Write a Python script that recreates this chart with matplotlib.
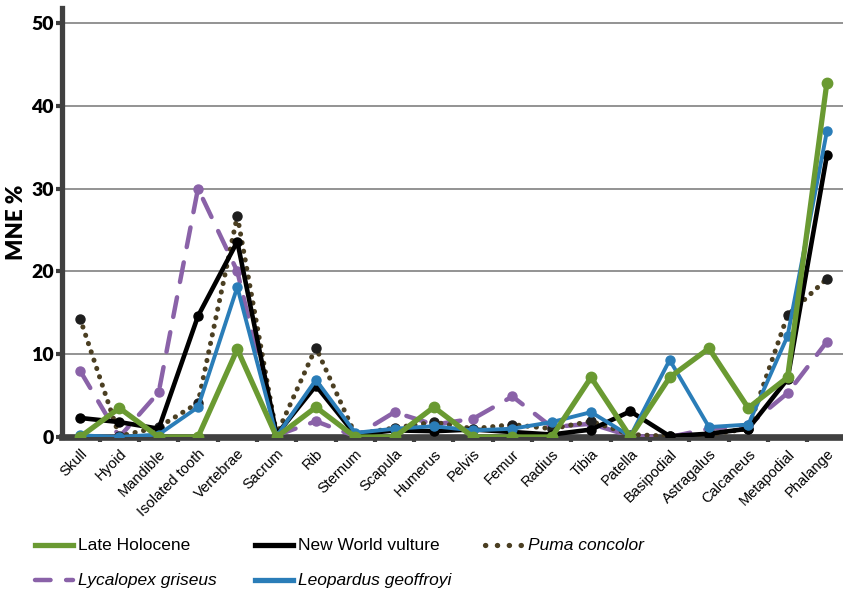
import matplotlib
matplotlib.use("Agg")
import matplotlib.pyplot as plt
from matplotlib.lines import Line2D
import numpy as np

elements = ["Skull", "Hyoid", "Mandible", "Isolated tooth", "Vertebrae", "Sacrum",
            "Rib", "Sternum", "Scapula", "Humerus", "Pelvis", "Femur", "Radius",
            "Tibia", "Patella", "Basipodial", "Astragalus", "Calcaneus",
            "Metapodial", "Phalange"]

late_holocene = [0.0, 3.5, 0.0, 0.0, 10.6, 0.0, 3.6, 0.0, 0.0, 3.6,
                 0.0, 0.0, 0.0, 7.2, 0.0, 7.2, 10.7, 3.5, 7.2, 42.8]
new_world_vulture = [2.3, 1.8, 1.0, 14.6, 23.6, 0.3, 6.2, 0.3, 0.8, 0.7,
                     0.9, 0.6, 0.3, 0.9, 3.1, 0.1, 0.4, 1.0, 7.0, 34.0]
puma_concolor = [14.3, 0.1, 1.2, 4.1, 26.7, 0.3, 10.8, 0.3, 1.1, 1.8,
                 1.0, 1.5, 1.0, 1.9, 0.3, 0.1, 0.3, 1.0, 14.7, 19.1]
lycalopex_griseus = [8.0, 0.0, 5.4, 30.0, 20.0, 0.2, 1.9, 0.1, 3.0, 1.5,
                     2.2, 4.9, 1.2, 1.6, 0.1, 0.0, 1.0, 1.4, 5.3, 11.5]
leopardus_geoffroyi = [0.2, 0.0, 0.3, 3.6, 18.1, 0.1, 6.9, 0.5, 1.0, 1.3,
                       0.8, 1.0, 1.8, 3.0, 0.1, 9.3, 1.2, 1.5, 12.2, 36.9]
y_ticks = [0, 10, 20, 30, 40, 50]

GREEN = "#6a9a32"
BLACK = "#000000"
PUMA = "#4b3f22"
PURPLE = "#8a62a8"
BLUE = "#2a7db8"
SPINE = "#404040"

DOTS = (0, (0.05, 1.7))
DASHES = (4.5, 3.5)

fig = plt.figure(figsize=(8.43, 5.92), dpi=100)
ax = fig.add_axes([62 / 843, 1 - 437 / 592, 1 - 62 / 843, (437 - 8) / 592])

x = np.arange(len(elements))

# purple dashed (bottom layer)
ax.plot(x, lycalopex_griseus, color=PURPLE, lw=3.2, dashes=DASHES,
        marker="o", ms=6.5, zorder=3, dash_capstyle="round")
# puma dotted line with dark point markers
ax.plot(x, puma_concolor, color=PUMA, lw=3.6, linestyle=DOTS,
        dash_capstyle="round", zorder=4)
ax.plot(x, puma_concolor, linestyle="none", marker="o", ms=6.5,
        color="#1e1e1e", zorder=4)
ax.plot(x, new_world_vulture, color=BLACK, lw=3.3, marker="o", ms=6.5,
        zorder=5, solid_joinstyle="round")
ax.plot(x, leopardus_geoffroyi, color=BLUE, lw=2.8, marker="o", ms=6.5,
        zorder=6, solid_joinstyle="round")
ax.plot(x, late_holocene, color=GREEN, lw=3.8, marker="o", ms=7.5,
        zorder=7, solid_joinstyle="round")

ax.set_xlim(-0.46, 19.41)
ax.set_ylim(0, 51.8)

ax.set_yticks(y_ticks)
ax.set_yticklabels([str(t) for t in y_ticks], fontfamily="Lato",
                   fontweight="heavy", fontsize=14)
ax.yaxis.grid(True, color="#8a8a8a", lw=1.3)
ax.set_axisbelow(True)

ax.set_xticks(x)
ax.set_xticklabels(elements, rotation=45, ha="right", rotation_mode="anchor",
                   fontfamily="Liberation Sans", fontsize=10.5)
ax.set_xticks(x[:-1] + 0.5, minor=True)
ax.tick_params(axis="x", which="major", length=0, pad=7)
ax.tick_params(axis="x", which="minor", length=3.5, width=3, color=SPINE,
               direction="out")
ax.tick_params(axis="y", which="major", length=4, width=3, color=SPINE,
               direction="out", pad=2)

for side in ("top", "right"):
    ax.spines[side].set_visible(False)
ax.spines["left"].set_color(SPINE)
ax.spines["left"].set_linewidth(3.8)
ax.spines["bottom"].set_color(SPINE)
ax.spines["bottom"].set_linewidth(4.8)
ax.spines["bottom"].set_zorder(2.5)

ax.set_ylabel("MNE %", fontfamily="Lato", fontweight="heavy", fontsize=16,
              labelpad=3)

# legend drawn below the axes, three entries per row
legend_items = [
    ("Late Holocene", dict(color=GREEN, lw=3.8), False, (35, 545)),
    ("New World vulture", dict(color=BLACK, lw=3.8), False, (255, 545)),
    ("Puma concolor", dict(color=PUMA, lw=3.8, linestyle=(0, (0.05, 2.2)),
                           dash_capstyle="round"), True, (485, 545)),
    ("Lycalopex griseus", dict(color=PURPLE, lw=3.2, dashes=(3.5, 3.5),
                               dash_capstyle="round"), True, (35, 580)),
    ("Leopardus geoffroyi", dict(color=BLUE, lw=3.8), True, (255, 580)),
]

for lab, style, it, (px, py) in legend_items:
    fy = 1 - py / 592
    ln = Line2D([px / 843, (px + 38) / 843], [fy, fy], transform=fig.transFigure,
                **style)
    fig.add_artist(ln)
    fig.text((px + 43) / 843, fy, lab, fontfamily="Liberation Sans",
             fontsize=12.5, style="italic" if it else "normal", va="center",
             ha="left")

fig.savefig("out.png", dpi=100)
